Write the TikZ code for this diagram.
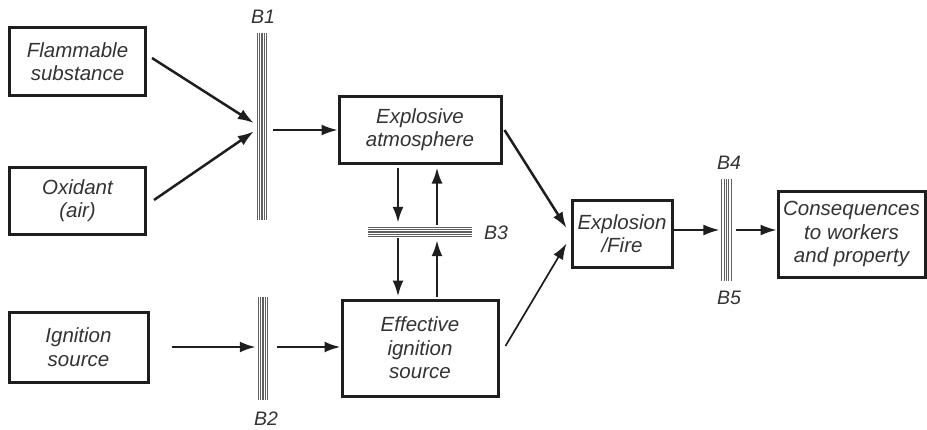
\documentclass[tikz,border=0pt]{standalone}
\usepackage{fontspec}
\setmainfont{Liberation Sans}
\usetikzlibrary{arrows.meta,calc}
\definecolor{txt}{HTML}{333333}
\definecolor{edge}{HTML}{1e1e1e}
\definecolor{bar}{HTML}{606060}
\tikzset{
  box/.style={draw=edge, line width=3pt, rectangle, align=center, inner sep=0pt,
    font=\itshape\fontsize{20.5}{23.5}\selectfont, text=txt},
  vbar/.style={rectangle, inner sep=0pt, minimum width=12pt,
    path picture={\foreach \i in {0,...,4}{
      \draw[bar, line width=1.1pt] ($(path picture bounding box.north west)+(1.2+2.4*\i,0)$) -- ($(path picture bounding box.south west)+(1.2+2.4*\i,0)$);}}},
  hbar/.style={rectangle, inner sep=0pt, minimum height=12pt,
    path picture={\foreach \i in {0,...,4}{
      \draw[bar, line width=1.1pt] ($(path picture bounding box.north west)+(0,1.2+2.4*\i)$) -- ($(path picture bounding box.north east)+(0,1.2+2.4*\i)$);}}},
  blabel/.style={font=\itshape\fontsize{19.5}{22}\selectfont, text=txt, inner sep=0pt},
  arr/.style={-{Latex[length=16pt,width=11pt]}, draw=edge, fill=edge, line width=2.5pt},
  tarr/.style={-{Latex[length=16pt,width=11pt]}, draw=edge, fill=edge, line width=1.7pt},
}
\begin{document}
\begin{tikzpicture}[x=1pt,y=-1pt]
\useasboundingbox (0,0) rectangle (927,429);

% boxes
\node[box, minimum width=136pt, minimum height=68pt] (flam) at (77.5,61.5) {Flammable\\substance};
\node[box, minimum width=136pt, minimum height=67pt] (oxid) at (77.5,200.5) {Oxidant\\(air)};
\node[box, minimum width=139pt, minimum height=70pt] (ign) at (78.5,347) {Ignition\\source};
\node[box, minimum width=162pt, minimum height=67pt] (explo) at (420,129.5) {Explosive\\atmosphere};
\node[box, minimum width=156pt, minimum height=96pt] (eff) at (420,348) {Effective\\ignition\\source};
\node[box, minimum width=100pt, minimum height=67pt] (fire) at (622,233.5) {Explosion\\/Fire};
\node[box, minimum width=147pt, minimum height=86pt] (cons) at (851.5,234) {Consequences\\to workers\\and property};

% barriers
\node[vbar, minimum height=187pt] (b1) at (262,126.5) {};
\node[vbar, minimum height=103pt] (b2) at (263,348.5) {};
\node[hbar, minimum width=104pt] (b3) at (420,232) {};
\node[vbar, minimum height=102pt] (b4) at (726.5,230) {};

% labels
\node[blabel] (l1) at (263,17) {B1};
\node[blabel] (l2) at (266,419) {B2};
\node[blabel] (l3) at (496,233) {B3};
\node[blabel] (l4) at (729,163) {B4};
\node[blabel] (l5) at (729,298) {B5};

% connectors
\draw[arr] ($(flam.east)+(5,-3.5)$) -- ($(b1.west)+(-2,-3.5)$);
\draw[arr] ($(oxid.east)+(7,-0.5)$) -- ($(b1.west)+(-2,5)$);
\draw[tarr] ($(b1.east|-explo.west)+(5,0.5)$) -- ($(explo.west)+(0,0.5)$);
\draw[arr] ($(ign.east)+(22,0)$) -- ($(b2.west|-ign.east)+(-1,0)$);
\draw[arr] ($(b2.east|-ign.east)+(8,0)$) -- (eff.west|-ign.east);
\draw[arr] ($(explo.south)+(-22,3)$) -- ($(b3.north)+(-22,-3)$);
\draw[arr] ($(b3.south)+(-22,0)$) -- ($(eff.north)+(-22,-2)$);
\draw[arr] ($(eff.north)+(17,-2)$) -- ($(b3.south)+(17,2)$);
\draw[arr] ($(b3.north)+(17,-1)$) -- ($(explo.south)+(17,3)$);
\draw[arr] ($(explo.east)+(2,0.5)$) -- ($(fire.west)+(-4,-5.5)$);
\draw[tarr] ($(eff.east)+(6,-2)$) -- ($(fire.west)+(-4,10)$);
\draw[tarr] (fire.east|-b4.west) -- ($(b4.west)+(-1,0)$);
\draw[tarr] ($(b4.east)+(3,0)$) -- (cons.west|-b4.east);
\end{tikzpicture}
\end{document}
